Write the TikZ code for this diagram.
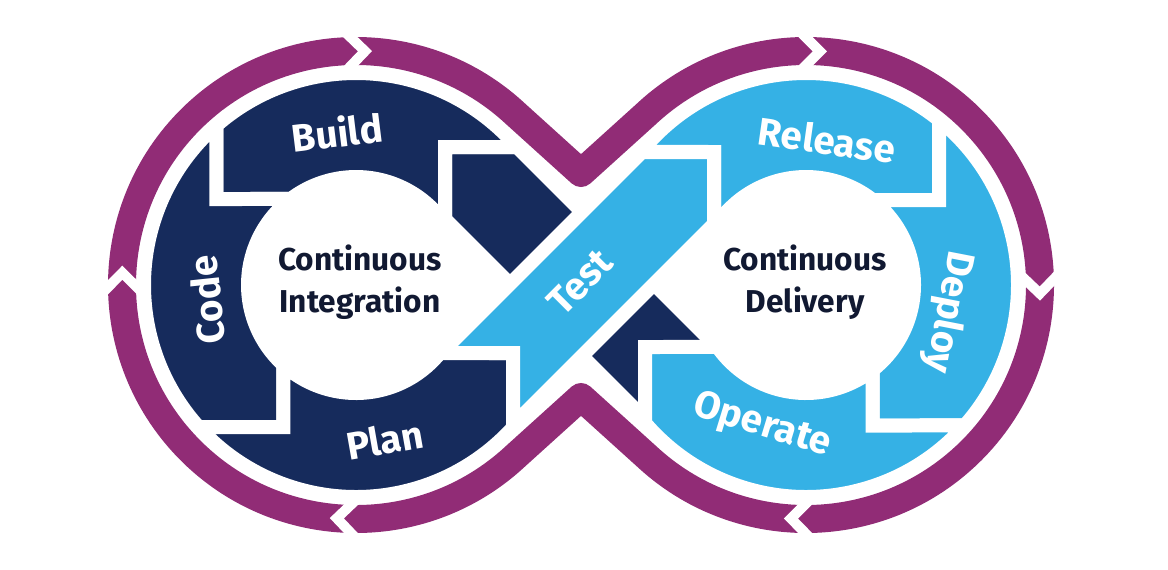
\documentclass[tikz,border=0pt]{standalone}
\usepackage{fontspec}
\setmainfont{Fira Sans}
\usetikzlibrary{calc}
\definecolor{loop}{RGB}{145,44,118}
\definecolor{ciblue}{RGB}{22,43,92}
\definecolor{cdblue}{RGB}{53,177,229}
\definecolor{ink}{RGB}{17,25,50}

\begin{document}
\begin{tikzpicture}[
        x=0.02cm, y=-0.02cm,
        seg/.style={draw=white, line width=0.28cm, line join=miter},
        ring/.style={draw=loop, line width=0.56cm, line join=round},
        notch/.style={draw=white, line width=0.2cm, line join=miter},
        lbl/.style={text=white, font=\bfseries\fontsize{22}{25}\selectfont},
        hub/.style={text=ink, align=center, font=\bfseries\fontsize{18}{24}\selectfont}
      ]
        \useasboundingbox (0,0) rectangle (1168,569);
        \coordinate (ci) at (356,285);
        \coordinate (cd) at (806,285);
        \coordinate (dipT) at (581,173);
        \coordinate (dipB) at (581,397);

        % outer loop with its arrow cuts
        \draw[ring] (dipT) -- ($(cd)+(227:234)$) arc[start angle=227, end angle=493, radius=234]
            -- (dipB) -- ($(ci)+(47:234)$) arc[start angle=47, end angle=313, radius=234] -- cycle;
        \foreach \c/\a in {ci/272.2, ci/183, ci/94.7, cd/273.4, cd/2.1, cd/93.7}
            \draw[notch] ($(\c)+({\a-4.4}:252)$) -- ($(\c)+(\a:234)$) -- ($(\c)+({\a-4.4}:216)$);

        % crossing band, under Test
        \filldraw[seg, fill=ciblue] (445,147) -- (517,147) -- (717,347) -- (645,347) -- (645,419) -- (445,219) -- cycle;

        % left loop
        \filldraw[seg, fill=ciblue] ($(ci)+(228.8:212)$) arc[start angle=228.8, end angle=319.4, radius=212]
            -- (445,147) -- ($(ci)+(325.5:108)$) arc[start angle=325.5, end angle=232.8, radius=108] -- (216.3,199) -- cycle;
        \filldraw[seg, fill=ciblue] ($(ci)+(228.8:212)$) arc[start angle=228.8, end angle=137.9, radius=212]
            -- (283.4,427.2) -- ($(ci)+(132.2:108)$) arc[start angle=132.2, end angle=232.8, radius=108] -- (216.3,199) -- cycle;
        \filldraw[seg, fill=ciblue] ($(ci)+(137.9:212)$) arc[start angle=137.9, end angle=42.2, radius=212]
            -- (513,353) -- ($(ci)+(39:108)$) arc[start angle=39, end angle=132.2, radius=108] -- (283.4,427.2) -- cycle;

        % right loop
        \filldraw[seg, fill=cdblue] ($(cd)+(218.9:212)$) arc[start angle=218.9, end angle=308.9, radius=212]
            -- (939,200) -- ($(cd)+(308.1:108)$) arc[start angle=308.1, end angle=211.6, radius=108] -- (714,152) -- cycle;
        \filldraw[seg, fill=cdblue] ($(cd)+(308.9:212)$) arc[start angle=308.9, end angle=401.5, radius=212]
            -- (872.5,425.5) -- ($(cd)+(412:108)$) arc[start angle=412, end angle=308.1, radius=108] -- (939,200) -- cycle;
        \filldraw[seg, fill=cdblue] ($(cd)+(41.5:212)$) arc[start angle=41.5, end angle=139.4, radius=212]
            -- (645,347) -- ($(cd)+(145:108)$) arc[start angle=145, end angle=52, radius=108] -- (872.5,425.5) -- cycle;

        % Test band on top
        \filldraw[seg, fill=cdblue] (441,353) -- (513,353) -- (513,425) -- (714,224) -- (714,152) -- (642,152) -- cycle;

        \node[lbl, rotate=7] (build) at (337,132) {Build};
        \node[lbl, rotate=96] (code) at (207,300) {Code};
        \node[lbl, rotate=10] (plan) at (385,440) {Plan};
        \node[lbl, rotate=45] (test) at (580,282) {Test};
        \node[lbl, rotate=-8] (release) at (827,140) {Release};
        \node[lbl, rotate=-101] (deploy) at (948,312) {Deploy};
        \node[lbl, rotate=-17] (operate) at (762,426) {Operate};
        \node[hub] (ci-txt) at (360,282) {Continuous\\Integration};
        \node[hub] (cd-txt) at (805,282) {Continuous\\Delivery};
    \end{tikzpicture}
\end{document}
